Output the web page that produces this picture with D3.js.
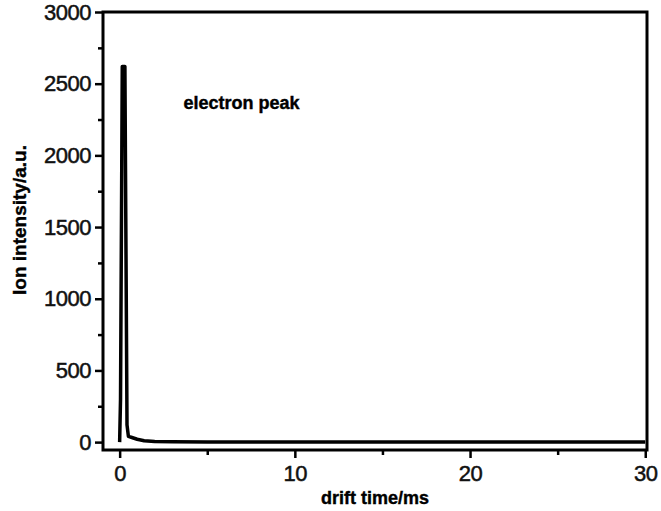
<!DOCTYPE html>
<html><head><meta charset="utf-8">
<script src="https://cdn.jsdelivr.net/npm/d3@7"></script>
<style>body{margin:0;background:#fff}svg{display:block}</style>
</head><body>
<script>
const driftTime = [0, 0.05, 0.15, 0.3, 0.42, 0.5, 0.7, 1.0, 1.4, 2.0, 3.0, 5.0, 10, 20, 30];
const intensity = [0, 300, 2620, 2620, 120, 40, 32, 20, 10, 5, 2, 0, 0, 0, 0];
const xTicks = [0, 10, 20, 30];
const xMinor = [5, 15, 25];
const yTicks = [0, 500, 1000, 1500, 2000, 2500, 3000];
const yMinor = [250, 750, 1250, 1750, 2250, 2750];
const xTitle = "drift time/ms";
const yTitle = "Ion intensity/a.u.";
const annotation = "electron peak";

const W = 661, H = 511;
const m = {left: 103, right: 14, top: 12, bottom: 61};
const svg = d3.select("body").append("svg").attr("width", W).attr("height", H);
const x = d3.scaleLinear().domain([-0.95, 30.1]).range([m.left, W - m.right]);
const y = d3.scaleLinear().domain([-55, 3000]).range([H - m.bottom, m.top]);

const font = "'Liberation Sans', Arial, sans-serif";
const fmt = d3.format("d");

svg.append("g").attr("transform", `translate(0,${H - m.bottom})`)
  .call(d3.axisBottom(x).tickValues(xTicks).tickFormat(fmt).tickSize(8).tickPadding(7));
svg.append("g").attr("transform", `translate(0,${H - m.bottom})`)
  .call(d3.axisBottom(x).tickValues(xMinor).tickSize(5).tickFormat(""));
svg.append("g").attr("transform", `translate(${m.left},0)`)
  .call(d3.axisLeft(y).tickValues(yTicks).tickFormat(fmt).tickSize(8).tickPadding(4));
svg.append("g").attr("transform", `translate(${m.left},0)`)
  .call(d3.axisLeft(y).tickValues(yMinor).tickSize(5).tickFormat(""));

svg.selectAll(".domain").remove();
svg.selectAll(".tick line").attr("stroke", "#000").attr("stroke-width", 2.5);
svg.selectAll(".tick text").attr("font-family", font).attr("font-size", 22).attr("fill", "#111")
  .attr("stroke", "#111").attr("stroke-width", 0.5).attr("letter-spacing", -0.5);

svg.append("rect").attr("x", m.left).attr("y", m.top)
  .attr("width", W - m.left - m.right).attr("height", H - m.top - m.bottom)
  .attr("fill", "none").attr("stroke", "#000").attr("stroke-width", 3);

const line = d3.line().x((d, i) => x(driftTime[i])).y((d) => y(d));
svg.append("path").datum(intensity).attr("d", line)
  .attr("fill", "none").attr("stroke", "#000").attr("stroke-width", 3.5).attr("stroke-linejoin", "round");

svg.append("text").attr("x", 375).attr("y", 504)
  .attr("text-anchor", "middle").attr("font-family", font).attr("font-weight", "bold")
  .attr("font-size", 18).attr("stroke", "#000").attr("stroke-width", 0.4).text(xTitle);
svg.append("text").attr("transform", `translate(26,220) rotate(-90)`)
  .attr("text-anchor", "middle").attr("font-family", font).attr("font-weight", "bold")
  .attr("font-size", 19).attr("stroke", "#000").attr("stroke-width", 0.4).text(yTitle);
svg.append("text").attr("x", x(3.65)).attr("y", 109)
  .attr("font-family", font).attr("font-weight", "bold").attr("font-size", 18)
  .attr("stroke", "#000").attr("stroke-width", 0.4).text(annotation);
</script>
</body></html>
